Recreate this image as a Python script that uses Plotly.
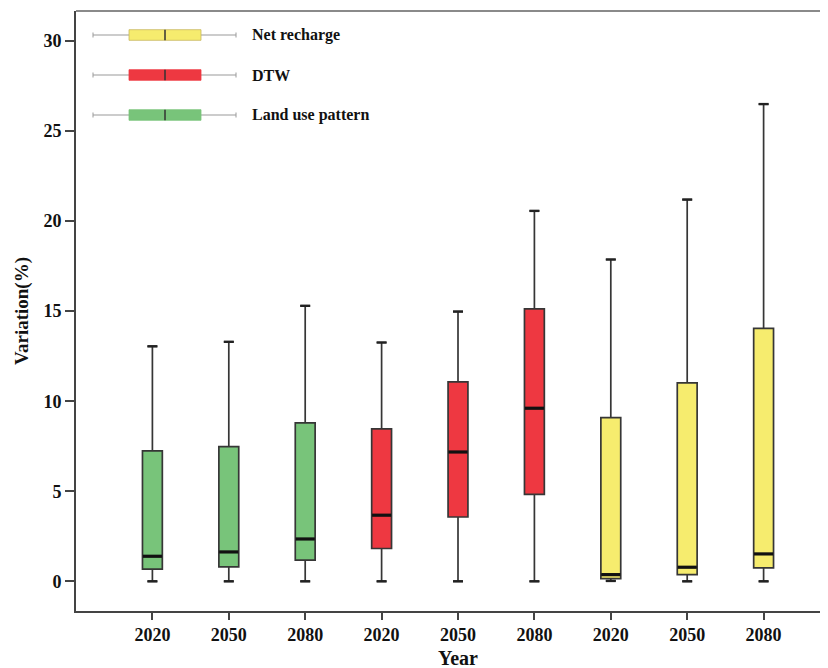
import plotly.graph_objects as go

# ---- data ----
years = ["2020", "2050", "2080"]
groups = ["Land use pattern", "DTW", "Net recharge"]
colors = {"Land use pattern": "#78C47A", "DTW": "#EE3841", "Net recharge": "#F6EC6E"}

land_lower = [0.0, 0.0, 0.0]
land_q1 = [0.68, 0.80, 1.17]
land_median = [1.39, 1.63, 2.35]
land_q3 = [7.24, 7.48, 8.80]
land_upper = [13.05, 13.30, 15.30]

dtw_lower = [0.0, 0.0, 0.0]
dtw_q1 = [1.82, 3.57, 4.83]
dtw_median = [3.67, 7.18, 9.61]
dtw_q3 = [8.46, 11.07, 15.13]
dtw_upper = [13.26, 14.98, 20.57]

net_lower = [0.02, 0.0, 0.0]
net_q1 = [0.15, 0.37, 0.74]
net_median = [0.37, 0.78, 1.52]
net_q3 = [9.09, 11.02, 14.04]
net_upper = [17.87, 21.20, 26.50]

stats = {
    "Land use pattern": (land_lower, land_q1, land_median, land_q3, land_upper),
    "DTW": (dtw_lower, dtw_q1, dtw_median, dtw_q3, dtw_upper),
    "Net recharge": (net_lower, net_q1, net_median, net_q3, net_upper),
}

FONT = "Liberation Serif"
BOX_W = 0.26
CAP_W = 0.13

fig = go.Figure()
med_x, med_y, cap_x, cap_y = [], [], [], []
for gi, g in enumerate(groups):
    lo, q1, med, q3, up = stats[g]
    xs = [gi * 3 + k + 1 for k in range(3)]
    fig.add_trace(go.Box(
        x=xs, q1=q1, median=med, q3=q3, lowerfence=lo, upperfence=up,
        width=BOX_W, whiskerwidth=0.5, boxpoints=False,
        fillcolor=colors[g], line=dict(color="#363636", width=1.7),
        name=g, showlegend=False, hoverinfo="skip",
    ))
    for x, m, l, u in zip(xs, med, lo, up):
        med_x += [x - BOX_W / 2 + 0.005, x + BOX_W / 2 - 0.005, None]
        med_y += [m, m, None]
        cap_x += [x - CAP_W / 2, x + CAP_W / 2, None, x - CAP_W / 2, x + CAP_W / 2, None]
        cap_y += [l, l, None, u, u, None]

fig.add_trace(go.Scatter(x=med_x, y=med_y, mode="lines",
                         line=dict(color="#111111", width=3.2),
                         showlegend=False, hoverinfo="skip"))
fig.add_trace(go.Scatter(x=cap_x, y=cap_y, mode="lines",
                         line=dict(color="#222222", width=2.4),
                         showlegend=False, hoverinfo="skip"))

# ---- layout geometry ----
# the page body adds an 8px offset; screen coordinates below are compensated
OFF = 8
W, H = 828 - OFF, 668 - OFF
AX_LEFT, AX_TOP, AX_BOTTOM = 76, 11, 611          # screen pixels
L = AX_LEFT - OFF
T = AX_TOP - OFF
B = (H + OFF) - AX_BOTTOM
plot_w = W - L
plot_h = H - T - B
UNIT = 76.4


def px(xs):
    return (xs - AX_LEFT) / plot_w


def py(ys):
    return (AX_BOTTOM - ys) / plot_h


shapes = [dict(type="line", xref="paper", yref="paper", x0=0, x1=1, y0=1, y1=1,
               line=dict(color="#8a8a8a", width=2))]
annotations = []

legend_rows = [("Net recharge", 35), ("DTW", 75), ("Land use pattern", 115)]
for name, yrow in legend_rows:
    shapes.append(dict(type="line", xref="paper", yref="paper",
                       x0=px(93), x1=px(236), y0=py(yrow), y1=py(yrow),
                       line=dict(color="#9a9a9a", width=1.2)))
    for xe in (93, 236):
        shapes.append(dict(type="line", xref="paper", yref="paper",
                           x0=px(xe), x1=px(xe), y0=py(yrow - 2.5), y1=py(yrow + 2.5),
                           line=dict(color="#9a9a9a", width=1)))
    shapes.append(dict(type="rect", xref="paper", yref="paper",
                       x0=px(129), x1=px(201), y0=py(yrow + 5.3), y1=py(yrow - 5.3),
                       fillcolor=colors[name],
                       line=dict(color="#c8b860" if name == "Net recharge" else colors[name], width=0.8)))
    shapes.append(dict(type="line", xref="paper", yref="paper",
                       x0=px(165), x1=px(165), y0=py(yrow + 5.3), y1=py(yrow - 5.3),
                       line=dict(color="#333333", width=1.5)))
    annotations.append(dict(xref="paper", yref="paper", x=px(250), y=py(yrow),
                            text=name, showarrow=False, xanchor="left", yanchor="middle",
                            font=dict(family=FONT, size=16, color="#111111", weight="bold")))

annotations.append(dict(xref="x", yref="paper", x=5.0, y=py(658), text="Year",
                        showarrow=False, xanchor="center", yanchor="middle",
                        font=dict(family=FONT, size=20, color="#111111", weight="bold")))

fig.update_layout(
    width=W, height=H,
    margin=dict(l=L, r=0, t=T, b=B, pad=0),
    paper_bgcolor="white", plot_bgcolor="white",
    boxmode="overlay",
    showlegend=False,
    shapes=shapes,
    annotations=annotations,
    font=dict(family=FONT, color="#111111"),
)
fig.update_xaxes(
    range=[0, plot_w / UNIT], tickmode="array",
    tickvals=list(range(1, 10)), ticktext=years * 3,
    showgrid=False, zeroline=False,
    showline=True, linecolor="#444444", linewidth=1.6,
    ticks="outside", ticklen=7, tickwidth=1.6, tickcolor="#444444",
    tickfont=dict(family=FONT, size=18, color="#111111", weight="bold"),
)
fig.update_yaxes(
    range=[-1.65, 31.67], tickmode="array", tickvals=[0, 5, 10, 15, 20, 25, 30],
    showgrid=False, zeroline=False,
    showline=True, linecolor="#444444", linewidth=1.6,
    ticks="outside", ticklen=9, tickwidth=1.6, tickcolor="#444444",
    tickfont=dict(family=FONT, size=18, color="#111111", weight="bold"),
    title=dict(text="Variation(%)", standoff=10,
               font=dict(family=FONT, size=19, color="#111111", weight="bold")),
)

fig.write_html("out.html")
